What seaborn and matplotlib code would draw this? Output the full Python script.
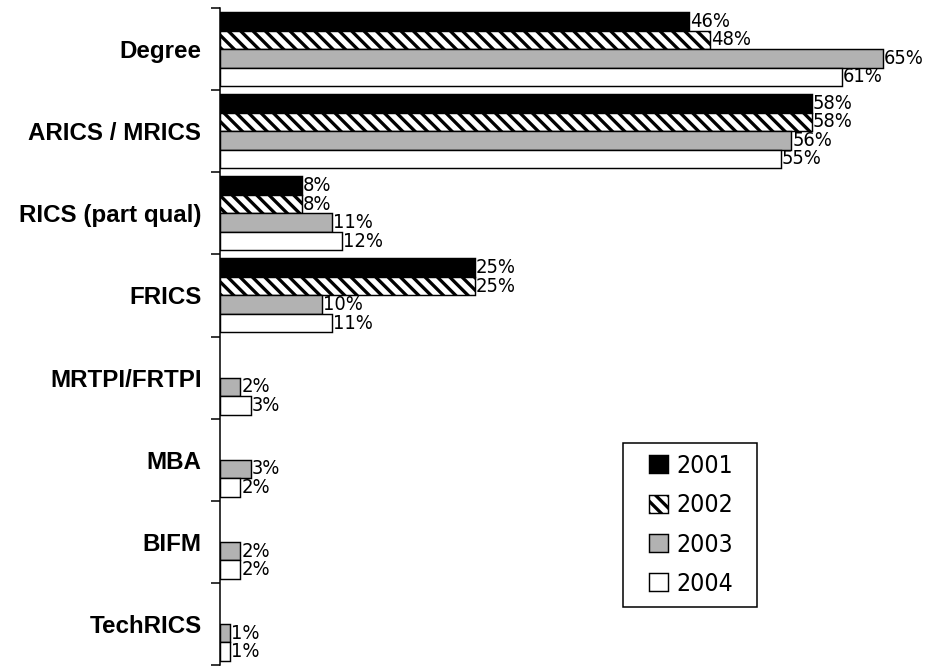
import numpy as np
import pandas as pd
import matplotlib
matplotlib.use("Agg")
import matplotlib.pyplot as plt
from matplotlib.patches import Rectangle
from matplotlib.ticker import FixedLocator
import seaborn as sns

# Qualifications held, share of respondents by survey year
qualifications = ["Degree", "ARICS / MRICS", "RICS (part qual)", "FRICS",
                  "MRTPI/FRTPI", "MBA", "BIFM", "TechRICS"]
years = ["2001", "2002", "2003", "2004"]
pct_2001 = [46, 58, 8, 25, np.nan, np.nan, np.nan, np.nan]
pct_2002 = [48, 58, 8, 25, np.nan, np.nan, np.nan, np.nan]
pct_2003 = [65, 56, 11, 10, 2, 3, 2, 1]
pct_2004 = [61, 55, 12, 11, 3, 2, 2, 1]

series = [pct_2001, pct_2002, pct_2003, pct_2004]
df = pd.DataFrame({
    "qualification": qualifications * len(years),
    "year": np.repeat(years, len(qualifications)),
    "pct": np.concatenate(series),
}).dropna()

sns.set_style("white")
plt.rcParams["font.family"] = ["Liberation Sans", "DejaVu Sans"]
plt.rcParams["text.color"] = "black"
plt.rcParams["hatch.linewidth"] = 3.2

DPI = 74
fig = plt.figure(figsize=(935 / DPI, 667 / DPI), dpi=DPI)
ax = fig.add_axes([220 / 935, 2 / 667, 714 / 935, 657 / 667])

fills = {"2001": "black", "2002": "white", "2003": "#b2b2b2", "2004": "white"}
sns.barplot(data=df, x="pct", y="qualification", hue="year",
            order=qualifications, hue_order=years, palette=fills,
            orient="h", width=0.9, edgecolor="black", linewidth=1.4,
            saturation=1, legend=False, ax=ax)

# diagonal stripes on the 2002 bars
for bar in ax.containers[1]:
    bar.set_hatch("\\\\")

narrow = dict(family="DejaVu Sans", stretch="condensed")
for cont in ax.containers:
    ax.bar_label(cont, fmt="%g%%", padding=1, fontsize=19.5,
                 color="black", **narrow)

ax.set_xlim(0, 70)
ax.set_ylim(len(qualifications) - 0.5, -0.5)
ax.set_xlabel("")
ax.set_ylabel("")
ax.xaxis.set_visible(False)
for side in ["top", "right", "bottom"]:
    ax.spines[side].set_visible(False)
ax.spines["left"].set_color("black")
ax.spines["left"].set_linewidth(1.5)

ax.yaxis.set_minor_locator(FixedLocator(np.arange(-0.5, len(qualifications), 1.0)))
ax.tick_params(axis="y", which="major", length=0, pad=18)
ax.tick_params(axis="y", which="minor", length=8.5, width=1.5, color="black",
               direction="out", left=True)
for lab in ax.get_yticklabels():
    lab.set_fontweight("bold")
    lab.set_fontsize(23.5)
    lab.set_color("black")

# legend in a plain square box
box = Rectangle((623 / 935, 1 - 607 / 667), 134 / 935, 164 / 667,
                transform=fig.transFigure, facecolor="white",
                edgecolor="black", linewidth=1.5, zorder=5)
fig.patches.append(box)
leg = fig.legend(ax.containers, years, loc="center",
                 bbox_to_anchor=(691 / 935, 1 - 525 / 667),
                 frameon=False, handlelength=0.75,
                 handleheight=0.75, handletextpad=0.35, labelspacing=0.62,
                 prop={"family": "DejaVu Sans", "stretch": "condensed",
                       "size": 24})
leg.set_zorder(6)

fig.savefig("out.png", dpi=DPI)
